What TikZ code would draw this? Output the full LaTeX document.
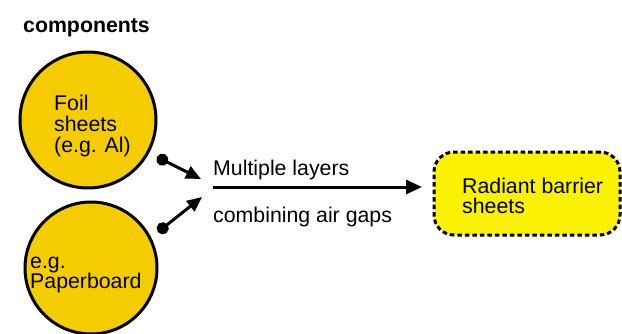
\documentclass[tikz,border=0pt]{standalone}
\usepackage{fontspec}
\setmainfont{Liberation Sans}
\usetikzlibrary{arrows.meta,calc}
\definecolor{circfill}{RGB}{244,204,0}
\definecolor{boxfill}{RGB}{250,242,0}
\tikzset{
  comp/.style={circle,draw=black,line width=3pt,fill=circfill,inner sep=0pt},
  lbl/.style={anchor=base west,inner sep=0pt,font=\fontsize{21.3}{21}\selectfont,align=left},
  conn/.style={line width=3pt,{Circle[length=12pt]}-{Triangle[length=15pt,width=13pt]}},
  mainarrow/.style={line width=3pt,-{Triangle[length=16pt,width=14pt]}},
  result/.style={draw=black,line width=3pt,dash pattern=on 4.5pt off 3pt,fill=boxfill,rounded corners=20pt,minimum width=186pt,minimum height=83pt,align=left,inner sep=0pt}
}
\begin{document}
\begin{tikzpicture}[x=1pt,y=-1pt]
\useasboundingbox (0,0) rectangle (622,333);
\clip (0,0) rectangle (622,333);
\node[lbl,font=\fontsize{21.3}{21}\selectfont\bfseries] (title) at (23,32) {components};
\node[comp,minimum size=136pt] (c1) at (88,120) {};
\node[comp,minimum size=132pt] (c2) at (91,268) {};
\node[lbl] (t1) at (54,110) {Foil};
\node[lbl] (t1b) at (54,131) {sheets};
\node[lbl] (t1c) at (54,152) {(e.g. Al)};
\node[lbl] (t2) at (30,268) {e.g.};
\node[lbl] (t2b) at (30,288) {Paperboard};
\node[result] (rb) at (527,193.5) {};
\node[lbl] (r1) at (462,193) {Radiant barrier};
\node[lbl] (r2) at (462,213) {sheets};
\coordinate (d1) at (157,157);
\coordinate (e1) at (201,179);
\coordinate (d2) at (158,232);
\coordinate (e2) at (202,197);
\coordinate (ms) at (213,187);
\coordinate (me) at (422,187);
\draw[conn] (d1) -- (e1);
\draw[conn] (d2) -- (e2);
\draw[mainarrow] (ms) -- (me);
\node[lbl] (ml) at (213,175) {Multiple layers};
\node[lbl] (mg) at (213,222) {combining air gaps};
\end{tikzpicture}
\end{document}
